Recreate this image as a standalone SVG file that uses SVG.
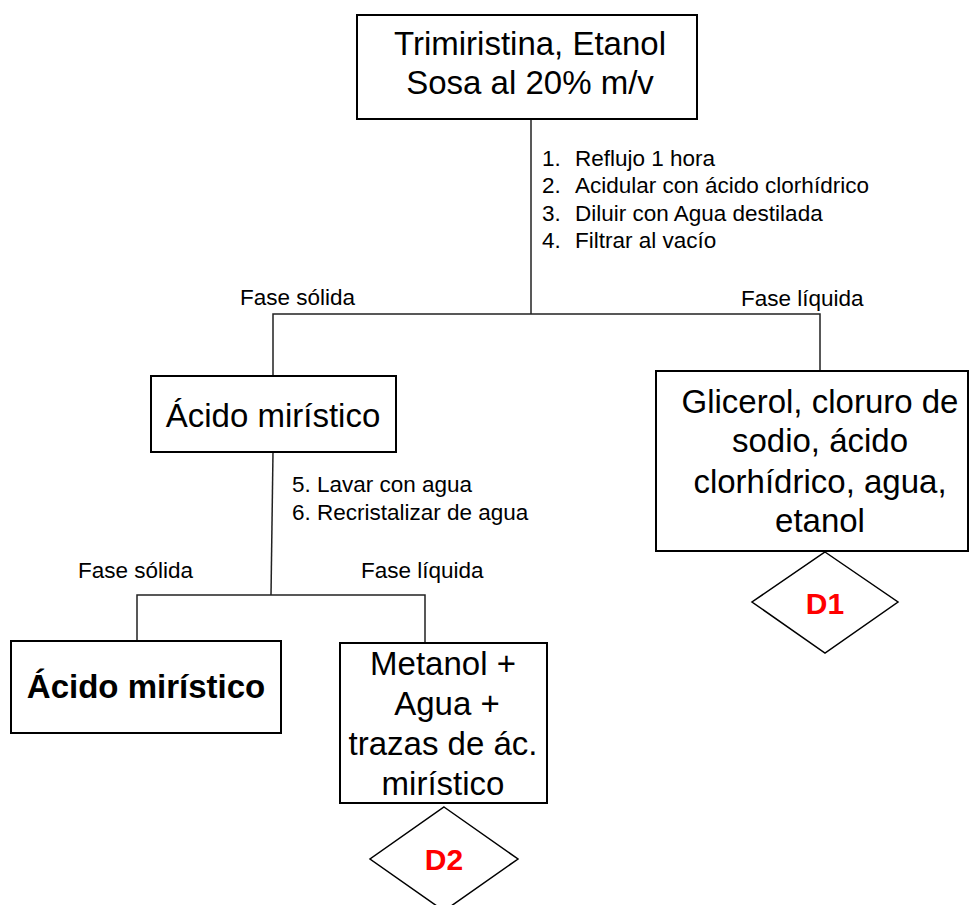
<svg xmlns="http://www.w3.org/2000/svg" width="970" height="905" viewBox="0 0 970 905">
  <style>
    .box { fill: #ffffff; stroke: #000000; stroke-width: 2; }
    .dia { fill: #ffffff; stroke: #000000; stroke-width: 1.5; }
    .wire { fill: none; stroke: #222222; stroke-width: 1.5; }
    .big { font-family: "Liberation Sans", Arial, sans-serif; font-size: 33px; fill: #000000; text-anchor: middle; }
    .bold { font-weight: bold; }
    .small { font-family: "Liberation Sans", Arial, sans-serif; font-size: 22.5px; fill: #000000; }
    .tag { font-family: "Liberation Sans", Arial, sans-serif; font-size: 30px; font-weight: bold; fill: #ff0000; text-anchor: middle; }
  </style>

  <!-- connectors -->
  <g id="connectors">
    <path class="wire" d="M531 119 V314"/>
    <path class="wire" d="M273 376 V314 H820 V371"/>
    <path class="wire" d="M273 452 L271 595"/>
    <path class="wire" d="M137 641 V595 H425 V643"/>
  </g>

  <!-- connector labels -->
  <g id="labels">
    <text class="small" x="542" y="166">1.</text>
    <text class="small" x="575" y="166">Reflujo 1 hora</text>
    <text class="small" x="542" y="193">2.</text>
    <text class="small" x="575" y="193">Acidular con ácido clorhídrico</text>
    <text class="small" x="542" y="221">3.</text>
    <text class="small" x="575" y="221">Diluir con Agua destilada</text>
    <text class="small" x="542" y="248">4.</text>
    <text class="small" x="575" y="248">Filtrar al vacío</text>
    <text class="small" x="240" y="305">Fase sólida</text>
    <text class="small" x="741" y="306">Fase líquida</text>
    <text class="small" x="292" y="492">5. Lavar con agua</text>
    <text class="small" x="292" y="520">6. Recristalizar de agua</text>
    <text class="small" x="78" y="578">Fase sólida</text>
    <text class="small" x="361" y="578">Fase líquida</text>
  </g>

  <g id="start">
    <rect class="box" x="357" y="15" width="340" height="104"/>
    <text class="big" x="530" y="55">Trimiristina, Etanol</text>
    <text class="big" x="530" y="94">Sosa al 20% m/v</text>
  </g>

  <g id="acid-crude">
    <rect class="box" x="151" y="376" width="245" height="76"/>
    <text class="big" x="273" y="427">Ácido mirístico</text>
  </g>

  <g id="liquid-1">
    <rect class="box" x="656" y="371" width="312" height="180"/>
    <text class="big" x="820" y="413">Glicerol, cloruro de</text>
    <text class="big" x="820" y="452">sodio, ácido</text>
    <text class="big" x="820" y="493">clorhídrico, agua,</text>
    <text class="big" x="820" y="532">etanol</text>
  </g>

  <g id="d1">
    <polygon class="dia" points="825,552 898,602 825,653 752,602"/>
    <text class="tag" x="825" y="614">D1</text>
  </g>

  <g id="acid-pure">
    <rect class="box" x="11" y="641" width="270" height="92"/>
    <text class="big bold" x="146" y="698">Ácido mirístico</text>
  </g>

  <g id="liquid-2">
    <rect class="box" x="340" y="643" width="207" height="160"/>
    <text class="big" x="443" y="675">Metanol +</text>
    <text class="big" x="447" y="715">Agua +</text>
    <text class="big" x="443" y="755">trazas de ác.</text>
    <text class="big" x="443" y="795">mirístico</text>
  </g>

  <g id="d2">
    <polygon class="dia" points="444,807 518,859 444,911 370,859"/>
    <text class="tag" x="444" y="870">D2</text>
  </g>
</svg>
